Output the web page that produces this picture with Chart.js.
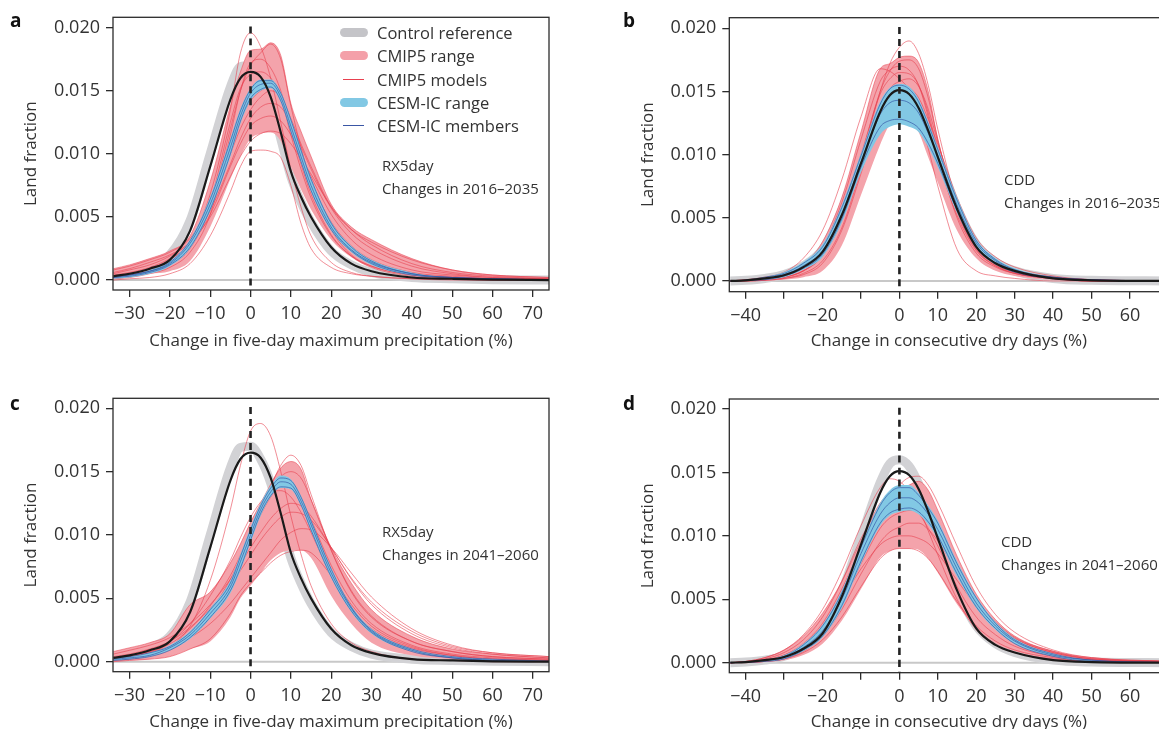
<!DOCTYPE html>
<html>
<head>
<meta charset="utf-8">
<script src="https://cdn.jsdelivr.net/npm/chart.js@4.4.1/dist/chart.umd.min.js"></script>
<style>
  body { margin: 0; background: #fff; width: 1159px; height: 729px; overflow: hidden; position: relative;
         font-family: 'Open Sans', sans-serif; color: #333; }
  canvas { position: absolute; }
  .txt { position: absolute; white-space: nowrap; line-height: 20px; z-index: 2; }
  .letter { font-weight: 700; font-size: 19px; color: #111; }
  .note { font-size: 15px; }
  .leg { font-size: 16.5px; }
  .sym { position: absolute; z-index: 2; }
</style>
</head>
<body>
<canvas id="pa" width="560" height="360" style="left:0;top:0"></canvas>
<canvas id="pb" width="580" height="360" style="left:600px;top:0"></canvas>
<canvas id="pc" width="560" height="360" style="left:0;top:381px"></canvas>
<canvas id="pd" width="580" height="360" style="left:600px;top:381px"></canvas>

<div class="txt letter" style="left:10px;top:10px">a</div>
<div class="txt letter" style="left:623px;top:10px">b</div>
<div class="txt letter" style="left:10px;top:393px">c</div>
<div class="txt letter" style="left:623px;top:393px">d</div>

<div class="txt note" style="left:382px;top:155px">RX5day</div>
<div class="txt note" style="left:382px;top:178px">Changes in 2016–2035</div>
<div class="txt note" style="left:1004px;top:169px">CDD</div>
<div class="txt note" style="left:1004px;top:192px">Changes in 2016–2035</div>
<div class="txt note" style="left:382px;top:521px">RX5day</div>
<div class="txt note" style="left:382px;top:544px">Changes in 2041–2060</div>
<div class="txt note" style="left:1001px;top:531px">CDD</div>
<div class="txt note" style="left:1001px;top:554px">Changes in 2041–2060</div>

<div class="sym" style="left:340px;top:28px;width:28px;height:9px;border-radius:5px;background:#c4c4c8"></div>
<div class="sym" style="left:340px;top:51px;width:28px;height:9px;border-radius:5px;background:#f4a0a9"></div>
<div class="sym" style="left:343px;top:79px;width:21px;height:1px;background:#e8404f"></div>
<div class="sym" style="left:340px;top:98px;width:28px;height:9px;border-radius:5px;background:#82c8e4"></div>
<div class="sym" style="left:343px;top:125px;width:21px;height:1px;background:#3a56a5"></div>
<div class="txt leg" style="left:377px;top:23px">Control reference</div>
<div class="txt leg" style="left:377px;top:46px">CMIP5 range</div>
<div class="txt leg" style="left:377px;top:70px">CMIP5 models</div>
<div class="txt leg" style="left:377px;top:93px">CESM-IC range</div>
<div class="txt leg" style="left:377px;top:116px">CESM-IC members</div>

<script>
// ---- x grids ----
const xRx5 = [-34, -30, -25, -20, -15, -10, -5, -2.5, 0, 2.5, 5, 7.5, 10, 12.5, 15, 20, 25, 30, 40, 50, 60, 74];
const xCdd = [-44, -40, -35, -30, -25, -20, -15, -10, -5, -2.5, 0, 2.5, 5, 7.5, 10, 15, 20, 25, 30, 40, 50, 70];

// ---- control (same in both periods) ----
const controlRx5 = [.0003, .0005, .0009, .0016, .0039, .0090, .0143, .0160, .0165, .0161, .0145, .0117, .0086, .0066, .0050, .0026, .0013, .0007, .0002, .0001, .00003, 0];
const controlRefRx5 = [.0004, .0006, .0011, .0020, .0047, .0100, .0153, .0169, .0170, .0160, .0141, .0112, .0082, .0062, .0046, .0023, .0012, .0006, .0002, .0001, .00003, 0];
const controlCdd = [0, .00005, .0002, .00045, .0011, .0023, .0052, .0093, .0134, .0147, .0151, .0148, .0137, .0119, .0098, .0057, .0027, .0014, .0008, .0002, .00005, 0];
const controlRefCdd = [0, .00005, .0002, .0005, .0012, .0025, .0056, .0099, .0142, .0157, .0160, .0155, .0141, .0121, .0099, .0058, .0029, .0015, .0008, .0002, .00005, 0];

// ---- panel a: RX5day 2016-2035 ----
const cmipHiA = [.0009, .0012, .0017, .0023, .0035, .0078, .0138, .0165, .0182, .0183, .0188, .0178, .0140, .0118, .0098, .0060, .0042, .0032, .0017, .0008, .0004, .0002];
const cmipLoA = [.0001, .0002, .0005, .0007, .0015, .0042, .0080, .0098, .0112, .0116, .0117, .0110, .0090, .0072, .0056, .0032, .0018, .0010, .0004, .0002, .0001, .00003];
const cmipA1 = [.0002, .0003, .0006, .0013, .0030, .0068, .0135, .0180, .0196, .0185, .0160, .0125, .0088, .0058, .0035, .0014, .0006, .0003, .0001, .00005, 0, 0];
const cmipA2 = [0, .0001, .0002, .0005, .0013, .0035, .0070, .0090, .0102, .0103, .0102, .0097, .0075, .0045, .0025, .0010, .0005, .0003, .0001, 0, 0, 0];
const cmipA3 = [.0008, .0011, .0016, .0022, .0033, .0060, .0100, .0120, .0135, .0145, .0150, .0145, .0128, .0108, .0090, .0058, .0040, .0030, .0016, .0008, .0004, .0002];
const cmipA4 = [.0002, .0003, .0006, .0012, .0025, .0058, .0120, .0150, .0170, .0180, .0187, .0175, .0138, .0105, .0078, .0040, .0020, .0011, .0004, .0002, .0001, 0];
const cmipA5 = [.0003, .0005, .0009, .0016, .0030, .0062, .0108, .0128, .0142, .0150, .0153, .0146, .0124, .0100, .0078, .0046, .0027, .0016, .0006, .0003, .0001, 0];
const cmipA6 = [.0004, .0006, .0010, .0017, .0028, .0052, .0090, .0108, .0122, .0128, .0130, .0126, .0115, .0098, .0082, .0052, .0032, .0020, .0008, .0004, .0002, .0001];
const cmipA7 = [.0002, .0004, .0007, .0013, .0027, .0062, .0125, .0152, .0163, .0165, .0160, .0145, .0115, .0088, .0065, .0035, .0019, .0011, .0004, .0002, .0001, 0];
const cmipA8 = [.0005, .0008, .0012, .0019, .0030, .0055, .0092, .0112, .0128, .0137, .0140, .0137, .0124, .0106, .0088, .0057, .0037, .0025, .0011, .0005, .0002, .0001];
const cmipA9 = [.0001, .0002, .0005, .0010, .0022, .0052, .0115, .0150, .0172, .0175, .0168, .0150, .0120, .0092, .0068, .0036, .0019, .0010, .0003, .0001, 0, 0];
const cmipA10 = [.0006, .0009, .0014, .0020, .0030, .0050, .0082, .0098, .0110, .0116, .0118, .0116, .0108, .0096, .0084, .0058, .0040, .0028, .0013, .0006, .0003, .0001];
const cesmHiA = [.0003, .0004, .0008, .0015, .0032, .0066, .0112, .0136, .0152, .0159, .0159, .0149, .0128, .0104, .0081, .0046, .0027, .0016, .0006, .0002, .0001, .00002];
const cesmLoA = [.0001, .0002, .0005, .0011, .0025, .0055, .0098, .0124, .0142, .0150, .0152, .0141, .0117, .0093, .0070, .0039, .0022, .0012, .0004, .0002, .0001, 0];
const cesmA1 = [.0003, .0004, .0007, .0014, .0031, .0064, .0110, .0134, .0151, .0158, .0158, .0148, .0127, .0103, .0080, .0045, .0026, .0015, .0005, .0002, .0001, 0];
const cesmA2 = [.0002, .0003, .0006, .0012, .0026, .0056, .0100, .0126, .0144, .0151, .0153, .0142, .0118, .0094, .0071, .0040, .0023, .0013, .0004, .0002, .0001, 0];
const cesmA3 = [.0002, .0004, .0007, .0013, .0029, .0060, .0105, .0130, .0148, .0155, .0156, .0145, .0122, .0098, .0075, .0042, .0024, .0014, .0005, .0002, .0001, 0];

// ---- panel b: CDD 2016-2035 ----
const cmipHiB = [0, .0001, .0002, .0005, .0013, .0031, .0066, .0118, .0168, .0172, .0177, .0178, .0173, .0150, .0112, .0059, .0028, .0015, .0008, .0003, .0001, 0];
const cmipLoB = [0, 0, .00003, .0001, .0003, .0008, .0028, .0068, .0108, .0124, .0130, .0130, .0118, .0098, .0078, .0040, .0018, .0008, .0004, .0001, 0, 0];
const cmipB1 = [0, 0, .0001, .0003, .0008, .0020, .0048, .0095, .0150, .0172, .0185, .0190, .0180, .0155, .0120, .0062, .0028, .0013, .0007, .0002, 0, 0];
const cmipB2 = [0, .0001, .0003, .0007, .0018, .0040, .0080, .0130, .0168, .0166, .0160, .0152, .0138, .0118, .0095, .0052, .0024, .0012, .0006, .0002, 0, 0];
const cmipB3 = [0, 0, .00005, .0002, .0006, .0016, .0042, .0088, .0135, .0150, .0155, .0148, .0130, .0105, .0075, .0025, .0008, .0004, .0002, 0, 0, 0];
const cmipB4 = [0, .00003, .0001, .0003, .0008, .0022, .0055, .0100, .0148, .0160, .0165, .0164, .0155, .0133, .0104, .0055, .0026, .0013, .0007, .0002, .00005, 0];
const cmipB5 = [0, .00005, .0002, .0004, .0010, .0024, .0055, .0097, .0138, .0150, .0155, .0153, .0145, .0128, .0108, .0066, .0034, .0019, .0011, .0004, .0001, 0];
const cmipB6 = [0, .00005, .0002, .0004, .0011, .0027, .0062, .0112, .0158, .0167, .0170, .0167, .0155, .0130, .0100, .0050, .0022, .0011, .0006, .0002, 0, 0];
const cmipB7 = [0, 0, .00005, .0002, .0005, .0014, .0040, .0085, .0135, .0152, .0158, .0160, .0154, .0136, .0110, .0060, .0029, .0015, .0008, .0002, .00005, 0];
const cmipB8 = [0, .00003, .0001, .0003, .0008, .0020, .0050, .0098, .0150, .0166, .0174, .0175, .0168, .0145, .0112, .0056, .0025, .0012, .0006, .0002, 0, 0];
const cmipB9 = [0, .00005, .0002, .0005, .0012, .0027, .0058, .0098, .0132, .0139, .0140, .0138, .0132, .0120, .0102, .0062, .0031, .0016, .0009, .0003, .0001, 0];
const cesmHiB = [0, .00008, .0003, .0007, .0015, .0029, .0060, .0101, .0142, .0153, .0156, .0154, .0144, .0126, .0106, .0066, .0033, .0018, .0010, .0003, .0001, 0];
const cesmLoB = [0, .00003, .0001, .0003, .0009, .0019, .0046, .0086, .0116, .0122, .0124, .0122, .0118, .0106, .0090, .0054, .0026, .0013, .0007, .0002, .00005, 0];
const cesmB1 = [0, .00007, .0003, .0006, .0014, .0027, .0058, .0099, .0140, .0152, .0155, .0152, .0142, .0124, .0104, .0064, .0032, .0017, .0009, .0003, .0001, 0];
const cesmB2 = [0, .00004, .0001, .0004, .0010, .0021, .0049, .0090, .0122, .0127, .0128, .0126, .0121, .0109, .0093, .0056, .0027, .0014, .0007, .0002, .00005, 0];
const cesmB3 = [0, .00005, .0002, .0005, .0012, .0024, .0053, .0094, .0132, .0141, .0143, .0141, .0133, .0117, .0099, .0060, .0030, .0016, .0008, .0003, .0001, 0];

// ---- panel c: RX5day 2041-2060 ----
const cmipHiC = [.0008, .0011, .0015, .0022, .0045, .0055, .0078, .0093, .0110, .0125, .0140, .0153, .0158, .0152, .0128, .0090, .0062, .0041, .0020, .0010, .0006, .0003];
const cmipLoC = [0, .0001, .0002, .0004, .0010, .0016, .0035, .0050, .0060, .0070, .0080, .0086, .0088, .0088, .0082, .0052, .0030, .0015, .0005, .0002, .0001, .00003];
const cmipC1 = [.0001, .0002, .0005, .0012, .0028, .0064, .0120, .0155, .0182, .0188, .0178, .0150, .0115, .0085, .0060, .0030, .0015, .0008, .0002, .0001, 0, 0];
const cmipC2 = [0, .0001, .0002, .0004, .0010, .0018, .0038, .0052, .0062, .0070, .0078, .0084, .0087, .0088, .0086, .0068, .0045, .0028, .0012, .0005, .0002, .0001];
const cmipC3 = [.0002, .0003, .0006, .0010, .0020, .0035, .0062, .0080, .0098, .0118, .0138, .0155, .0163, .0155, .0132, .0088, .0055, .0035, .0016, .0008, .0004, .0002];
const cmipC4 = [.0006, .0009, .0013, .0019, .0030, .0045, .0065, .0077, .0090, .0102, .0113, .0121, .0125, .0123, .0115, .0090, .0066, .0047, .0024, .0012, .0007, .0004];
const cmipC5 = [.0003, .0005, .0008, .0014, .0026, .0044, .0068, .0084, .0100, .0116, .0130, .0139, .0138, .0128, .0112, .0076, .0048, .0030, .0013, .0006, .0003, .0001];
const cmipC6 = [.0002, .0004, .0007, .0012, .0023, .0040, .0065, .0082, .0100, .0118, .0134, .0146, .0150, .0145, .0128, .0088, .0056, .0036, .0016, .0008, .0004, .0002];
const cmipC7 = [.0004, .0006, .0010, .0016, .0027, .0042, .0060, .0072, .0084, .0096, .0106, .0114, .0118, .0117, .0112, .0090, .0065, .0045, .0022, .0011, .0006, .0003];
const cmipC8 = [.0003, .0005, .0009, .0016, .0030, .0052, .0080, .0098, .0114, .0126, .0134, .0135, .0130, .0118, .0102, .0068, .0042, .0026, .0011, .0005, .0002, .0001];
const cmipC9 = [.0003, .0005, .0008, .0012, .0019, .0030, .0046, .0056, .0066, .0076, .0086, .0096, .0102, .0105, .0104, .0090, .0070, .0051, .0026, .0013, .0007, .0004];
const cesmHiC = [.0003, .0004, .0007, .0013, .0024, .0042, .0064, .0085, .0106, .0125, .0139, .0147, .0144, .0131, .0112, .0074, .0044, .0026, .0010, .0004, .0002, .00005];
const cesmLoC = [.0001, .0002, .0004, .0009, .0018, .0034, .0054, .0072, .0094, .0115, .0130, .0137, .0136, .0123, .0103, .0066, .0039, .0022, .0008, .0003, .0001, 0];
const cesmC1 = [.0003, .0004, .0007, .0012, .0023, .0041, .0062, .0083, .0104, .0123, .0137, .0145, .0143, .0130, .0111, .0073, .0043, .0025, .0010, .0004, .0002, .00005];
const cesmC2 = [.0001, .0002, .0004, .0009, .0019, .0035, .0056, .0074, .0096, .0117, .0131, .0138, .0137, .0124, .0104, .0067, .0040, .0023, .0008, .0003, .0001, 0];
const cesmC3 = [.0002, .0003, .0005, .0011, .0021, .0038, .0059, .0079, .0100, .0120, .0134, .0142, .0140, .0127, .0108, .0070, .0042, .0024, .0009, .0003, .0001, 0];

// ---- panel d: CDD 2041-2060 ----
const cmipHiD = [0, .0001, .0004, .0010, .0021, .0039, .0064, .0096, .0126, .0133, .0136, .0140, .0143, .0136, .0120, .0084, .0054, .0034, .0021, .0009, .0004, .0001];
const cmipLoD = [0, 0, .00005, .0002, .0006, .0015, .0033, .0058, .0083, .0088, .0090, .0090, .0089, .0082, .0071, .0046, .0027, .0015, .0009, .0003, .0001, 0];
const cmipD1 = [0, .00005, .0002, .0005, .0012, .0026, .0050, .0082, .0115, .0130, .0140, .0146, .0147, .0140, .0126, .0092, .0060, .0038, .0024, .0010, .0004, .0001];
const cmipD2 = [0, .0001, .0004, .0010, .0022, .0042, .0072, .0108, .0138, .0145, .0143, .0135, .0122, .0104, .0085, .0050, .0026, .0014, .0008, .0003, .0001, 0];
const cmipD3 = [0, 0, .0001, .0003, .0008, .0018, .0036, .0060, .0082, .0088, .0090, .0090, .0088, .0082, .0072, .0048, .0029, .0017, .0010, .0004, .0001, 0];
const cmipD4 = [0, .00005, .0002, .0005, .0013, .0028, .0053, .0085, .0115, .0125, .0130, .0132, .0130, .0121, .0106, .0072, .0044, .0027, .0016, .0006, .0002, .00005];
const cmipD5 = [0, .00003, .0001, .0004, .0010, .0024, .0047, .0078, .0106, .0114, .0118, .0120, .0120, .0114, .0102, .0074, .0048, .0030, .0019, .0008, .0003, .0001];
const cmipD6 = [0, .00008, .0003, .0008, .0018, .0036, .0064, .0098, .0122, .0127, .0128, .0125, .0118, .0106, .0092, .0060, .0036, .0022, .0013, .0005, .0002, 0];
const cmipD7 = [0, .00003, .0001, .0003, .0009, .0021, .0042, .0070, .0095, .0103, .0107, .0110, .0110, .0105, .0096, .0072, .0049, .0032, .0020, .0009, .0003, .0001];
const cmipD8 = [0, .00005, .0002, .0006, .0015, .0031, .0058, .0090, .0116, .0122, .0124, .0125, .0121, .0113, .0100, .0070, .0044, .0027, .0016, .0006, .0002, 0];
const cmipD9 = [0, .00005, .0002, .0006, .0014, .0028, .0050, .0074, .0093, .0098, .0100, .0100, .0098, .0094, .0086, .0065, .0045, .0030, .0019, .0008, .0003, .0001];
const cesmHiD = [0, .00005, .0002, .0006, .0015, .0030, .0057, .0093, .0126, .0136, .0140, .0140, .0134, .0124, .0112, .0080, .0052, .0032, .0019, .0007, .0002, 0];
const cesmLoD = [0, .00002, .0001, .0003, .0009, .0020, .0043, .0078, .0108, .0116, .0119, .0120, .0117, .0109, .0098, .0068, .0043, .0026, .0015, .0005, .0001, 0];
const cesmD1 = [0, .00005, .0002, .0005, .0014, .0029, .0055, .0091, .0124, .0134, .0138, .0138, .0132, .0122, .0110, .0078, .0051, .0031, .0018, .0007, .0002, 0];
const cesmD2 = [0, .00002, .0001, .0003, .0010, .0021, .0045, .0080, .0110, .0118, .0121, .0122, .0119, .0111, .0100, .0070, .0044, .0027, .0015, .0005, .0001, 0];
const cesmD3 = [0, .00004, .0002, .0004, .0012, .0025, .0050, .0086, .0117, .0126, .0130, .0130, .0126, .0117, .0105, .0074, .0047, .0029, .0017, .0006, .0002, 0];

// ---- ticks ----
const yTicks = [0, 0.005, 0.010, 0.015, 0.020];
const yTickLabels = ['0.000', '0.005', '0.010', '0.015', '0.020'];
const xTicksRx5 = [-30, -20, -10, 0, 10, 20, 30, 40, 50, 60, 70];
const xTickLabelsRx5 = ['−30', '−20', '−10', '0', '10', '20', '30', '40', '50', '60', '70'];
const xTicksCdd = [-40, -30, -20, -10, 0, 10, 20, 30, 40, 50, 60];
const xTickLabelsCdd = ['−40', '', '−20', '', '0', '10', '20', '30', '40', '50', '60'];
const dashY = [0.0201, -0.001];

Chart.defaults.font.family = "'Open Sans', sans-serif";
Chart.defaults.color = '#333';

const PINK = '#f4a3ab', RED = 'rgba(232,64,79,0.75)', BLUE = '#82c8e4', NAVY = 'rgba(52,84,165,0.85)';

const pts = (xs, ys) => xs.map((x, i) => ({ x, y: ys[i] }));

const line = (data, color, width, order, extra = {}) => ({
    data, borderColor: color, borderWidth: width, pointRadius: 0,
    cubicInterpolationMode: 'monotone', fill: false, order, clip: 0, ...extra
});

const boxPlugin = {
    id: 'box',
    afterDraw(chart) {
        const { ctx, chartArea: a } = chart;
        ctx.save();
        ctx.strokeStyle = '#2b2b2b';
        ctx.lineWidth = 1.3;
        ctx.strokeRect(a.left, a.top, a.right - a.left, a.bottom - a.top);
        ctx.restore();
    }
};

const makePanel = (id, layout, xs, s) => {
    const datasets = [
        line(pts(xs, s.cmipHi), 'rgba(0,0,0,0)', 0, 5, { fill: '+1', backgroundColor: PINK }),
        line(pts(xs, s.cmipLo), 'rgba(0,0,0,0)', 0, 5),
        line(pts(xs, s.cesmHi), 'rgba(0,0,0,0)', 0, 3, { fill: '+1', backgroundColor: BLUE }),
        line(pts(xs, s.cesmLo), 'rgba(0,0,0,0)', 0, 3),
        line(pts(xs, s.ref), '#d2d2d5', 9, 6),
        line([{ x: layout.xMin, y: 0 }, { x: layout.xMax, y: 0 }], '#c8c8c8', 2, 7),
        ...s.cmip.map(ys => line(pts(xs, ys), RED, 0.8, 4)),
        line(pts(xs, s.cmipHi), RED, 0.7, 4),
        ...s.cesm.map(ys => line(pts(xs, ys), NAVY, 0.8, 2)),
        line(pts(xs, s.control), '#1a1a1a', 2.2, 1),
        line([{ x: 0, y: dashY[0] }, { x: 0, y: dashY[1] }], '#222', 2.6, 0, { borderDash: [7, 5] })
    ];

    new Chart(document.getElementById(id), {
        type: 'line',
        data: { datasets },
        plugins: [boxPlugin],
        options: {
            responsive: false,
            animation: false,
            events: [],
            layout: { padding: { top: layout.padTop, right: layout.padRight, left: 0, bottom: 0 } },
            plugins: { legend: { display: false }, tooltip: { enabled: false } },
            scales: {
                x: {
                    type: 'linear', min: layout.xMin, max: layout.xMax,
                    afterBuildTicks: sc => { sc.ticks = layout.xTicks.map(v => ({ value: v })); },
                    afterFit: sc => { sc.height = layout.xHeight; },
                    ticks: { callback: (v, i) => layout.xLabels[i], font: { size: 18 }, color: '#333', padding: 6, maxRotation: 0, autoSkip: false },
                    grid: { drawOnChartArea: false, drawTicks: true, tickLength: 7, color: '#2b2b2b', lineWidth: 1.3 },
                    border: { display: false },
                    title: { display: true, text: layout.xTitle, font: { size: 17 }, color: '#333', padding: { top: 0, bottom: 9 } }
                },
                y: {
                    type: 'linear', min: layout.yMin, max: layout.yMax,
                    afterBuildTicks: sc => { sc.ticks = yTicks.map(v => ({ value: v })); },
                    afterFit: sc => { sc.width = layout.yWidth; },
                    ticks: { callback: (v, i) => yTickLabels[i], font: { size: 18 }, color: '#333', padding: 6 },
                    grid: { drawOnChartArea: false, drawTicks: true, tickLength: 7, color: '#2b2b2b', lineWidth: 1.3 },
                    border: { display: false },
                    title: { display: true, text: 'Land fraction', font: { size: 17 }, color: '#333', padding: { top: layout.yTitlePad, bottom: 0 } }
                }
            }
        }
    });
};

const rx5Title = 'Change in five-day maximum precipitation (%)';
const cddTitle = 'Change in consecutive dry days (%)';

makePanel('pa', { padTop: 17.3, padRight: 11, yWidth: 113, xHeight: 70, xMin: -34.1, xMax: 74, yMin: -0.00079, yMax: 0.020824,
                  xTicks: xTicksRx5, xLabels: xTickLabelsRx5, xTitle: rx5Title, yTitlePad: 20.6 }, xRx5,
    { control: controlRx5, ref: controlRefRx5, cmipHi: cmipHiA, cmipLo: cmipLoA, cesmHi: cesmHiA, cesmLo: cesmLoA,
      cmip: [cmipA1, cmipA2, cmipA3, cmipA4, cmipA5, cmipA6, cmipA7, cmipA8, cmipA9, cmipA10], cesm: [cesmA1, cesmA2, cesmA3] });

makePanel('pb', { padTop: 17.7, padRight: 11.6, yWidth: 129.3, xHeight: 68.3, xMin: -44.27, xMax: 70, yMin: -0.00085, yMax: 0.02084,
                  xTicks: xTicksCdd, xLabels: xTickLabelsCdd, xTitle: cddTitle, yTitlePad: 37.6 }, xCdd,
    { control: controlCdd, ref: controlRefCdd, cmipHi: cmipHiB, cmipLo: cmipLoB, cesmHi: cesmHiB, cesmLo: cesmLoB,
      cmip: [cmipB1, cmipB2, cmipB3, cmipB4, cmipB5, cmipB6, cmipB7, cmipB8, cmipB9], cesm: [cesmB1, cesmB2, cesmB3] });

makePanel('pc', { padTop: 17.3, padRight: 11, yWidth: 113, xHeight: 69.3, xMin: -34.1, xMax: 74, yMin: -0.00079, yMax: 0.02079,
                  xTicks: xTicksRx5, xLabels: xTickLabelsRx5, xTitle: rx5Title, yTitlePad: 20.6 }, xRx5,
    { control: controlRx5, ref: controlRefRx5, cmipHi: cmipHiC, cmipLo: cmipLoC, cesmHi: cesmHiC, cesmLo: cesmLoC,
      cmip: [cmipC1, cmipC2, cmipC3, cmipC4, cmipC5, cmipC6, cmipC7, cmipC8, cmipC9], cesm: [cesmC1, cesmC2, cesmC3] });

makePanel('pd', { padTop: 18, padRight: 11.6, yWidth: 129.3, xHeight: 68.3, xMin: -44.27, xMax: 70, yMin: -0.00079, yMax: 0.02079,
                  xTicks: xTicksCdd, xLabels: xTickLabelsCdd, xTitle: cddTitle, yTitlePad: 37.6 }, xCdd,
    { control: controlCdd, ref: controlRefCdd, cmipHi: cmipHiD, cmipLo: cmipLoD, cesmHi: cesmHiD, cesmLo: cesmLoD,
      cmip: [cmipD1, cmipD2, cmipD3, cmipD4, cmipD5, cmipD6, cmipD7, cmipD8, cmipD9], cesm: [cesmD1, cesmD2, cesmD3] });
</script>
</body>
</html>
